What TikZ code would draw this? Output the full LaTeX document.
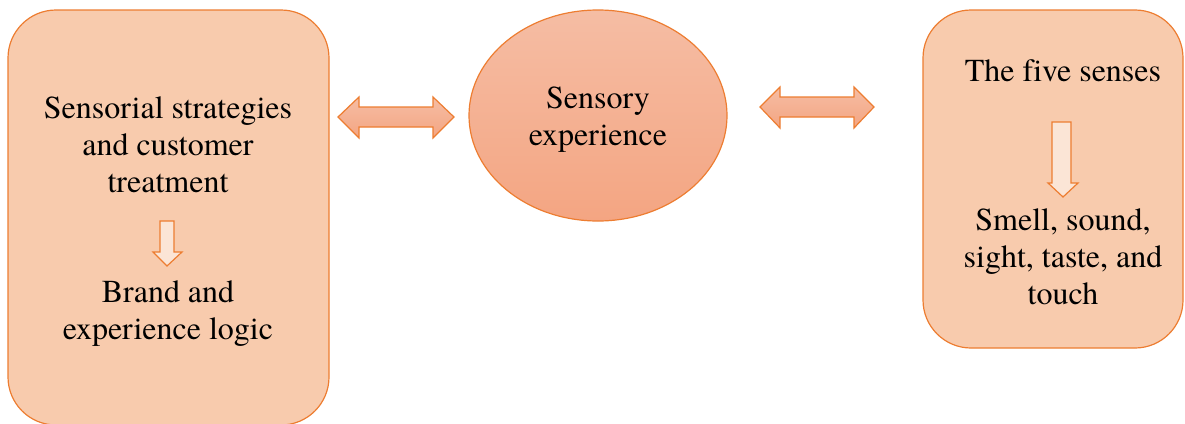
\documentclass[tikz,border=0pt]{standalone}
\usepackage{fontspec}
\setmainfont{texgyretermes}[Extension=.otf, UprightFont=*-regular, BoldFont=*-bold,
  ItalicFont=*-italic, BoldItalicFont=*-bolditalic]
\usetikzlibrary{shapes.geometric}
\definecolor{boxfill}{HTML}{F8CBAD}
\definecolor{edge}{HTML}{ED7D31}
\definecolor{pale}{HTML}{FBE5D6}
\definecolor{salmontop}{HTML}{F5BDA4}
\definecolor{salmonbot}{HTML}{F4A582}
\tikzset{
  panel/.style={draw=edge, fill=boxfill, line width=1.2pt, rounded corners=48pt},
  caption/.style={align=center, font=\fontsize{32}{37}\selectfont, inner sep=0pt},
  blockarrow/.style={draw=edge, line width=1.2pt, top color=salmontop, bottom color=salmonbot},
  downarrow/.style={draw=edge, fill=pale, line width=1.2pt},
}
\begin{document}
\begin{tikzpicture}[x=1pt,y=-1pt]
  \useasboundingbox (0,0) rectangle (1185,423);

  % side panels
  \path[panel] (8,10) rectangle (329,425);
  \path[panel] (923,10) rectangle (1183,348);

  % central ellipse
  \node[ellipse, draw=edge, line width=1.2pt, top color=salmontop, bottom color=salmonbot,
        minimum width=258pt, minimum height=211pt, inner sep=0pt] (core) at (598,115.5) {};

  % left panel texts
  \node[caption] (strat) at (168,145) {Sensorial strategies\\and customer\\treatment};
  \node[caption] (brand) at (168,314) {Brand and\\experience logic};

  % centre text
  \node[caption] (sens) at (598,120) {Sensory\\experience};

  % right panel texts
  \node[caption] (five) at (1063,71) {The f\kern0pt ive senses};
  \node[caption] (list) at (1063,257) {Smell, sound,\\sight, taste, and\\touch};

  % down arrows inside panels
  \path[downarrow] (160,221) -- (174,221) -- (174,252) -- (182,252) -- (167,266)
                   -- (153,252) -- (160,252) -- cycle;
  \path[downarrow] (1052,122) -- (1071,122) -- (1071,183) -- (1078,183) -- (1063,197)
                   -- (1048,183) -- (1052,183) -- cycle;

  % double-headed block arrows between panels and ellipse
  \path[blockarrow] (338,117) -- (359,97) -- (359,107) -- (433,107) -- (433,97) -- (454,117)
                    -- (433,138) -- (433,127) -- (359,127) -- (359,138) -- cycle;
  \path[blockarrow] (760,107) -- (780,87) -- (780,97) -- (854,97) -- (854,87) -- (874,107)
                    -- (854,128) -- (854,117) -- (780,117) -- (780,128) -- cycle;
\end{tikzpicture}
\end{document}
